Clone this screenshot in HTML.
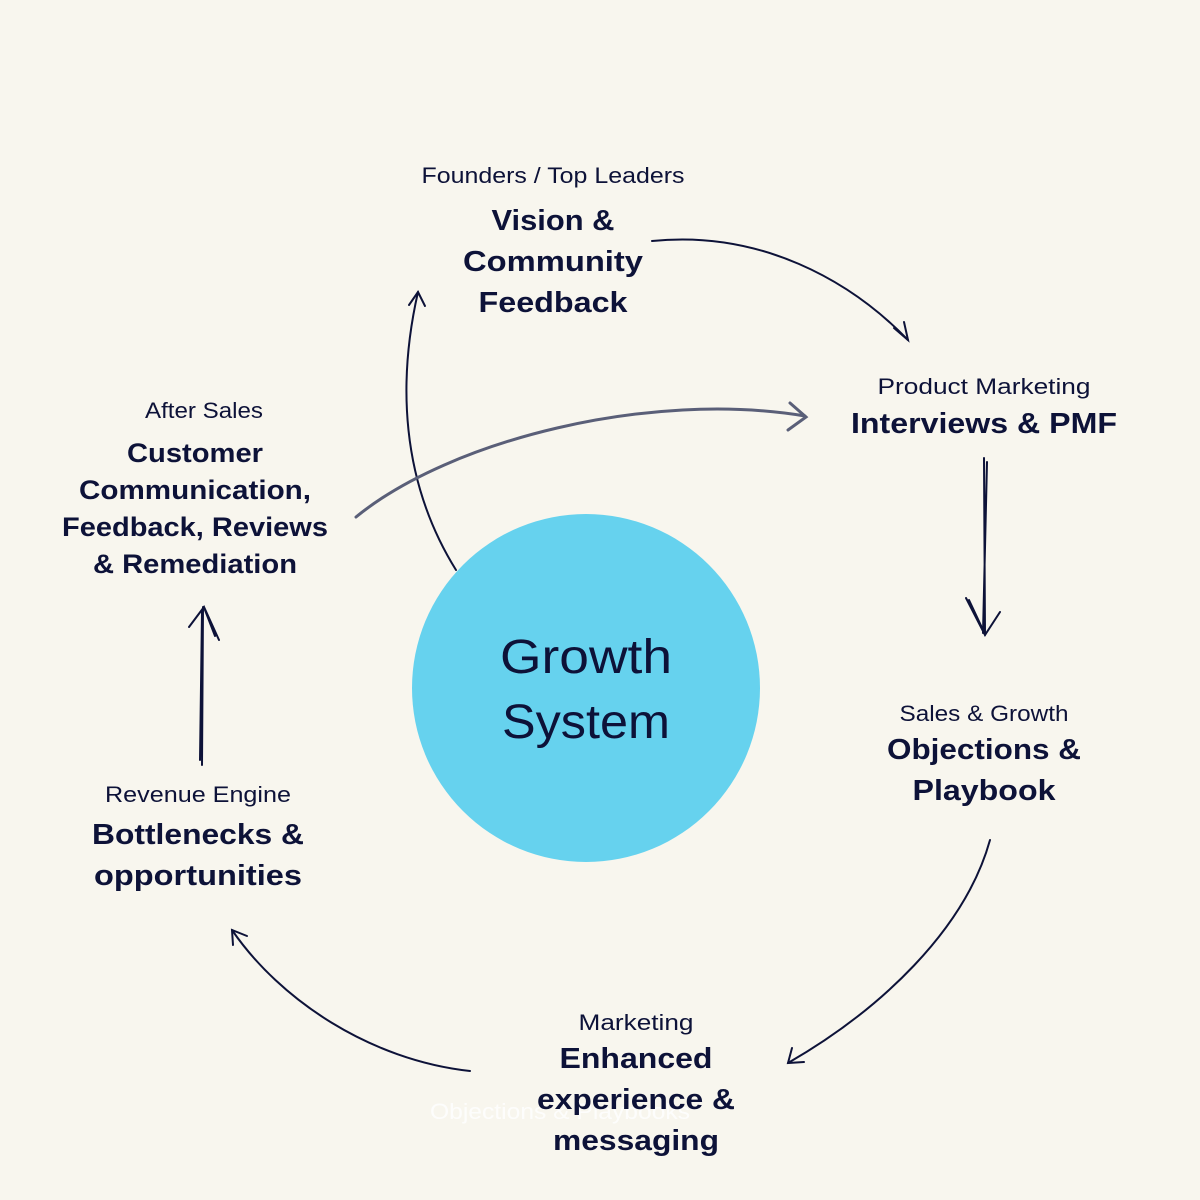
<!DOCTYPE html>
<html><head><meta charset="utf-8"><style>
html,body{margin:0;padding:0;background:#f8f6ee;}
svg{display:block}
text{font-family:"Liberation Sans",sans-serif;fill:#0d1238;text-anchor:middle}
.l{font-size:22px}
.b{font-size:29px;font-weight:bold}
.c{font-size:27px;font-weight:bold}
</style></head><body>
<svg width="1200" height="1200" viewBox="0 0 1200 1200" xmlns="http://www.w3.org/2000/svg">
<rect width="1200" height="1200" fill="#f8f6ee"/>
<circle cx="586" cy="688" r="174" fill="#66d2ee"/>
<text x="586" y="673" style="font-size:48px" textLength="172" lengthAdjust="spacingAndGlyphs">Growth</text>
<text x="586" y="738" style="font-size:48px" textLength="168" lengthAdjust="spacingAndGlyphs">System</text>

<g fill="none" stroke="#0d1238" stroke-width="2" stroke-linecap="round">
<path d="M652,241 C760,230 850,280 908,340"/>
<path d="M894,328 L908,340 L904,322"/>
<path d="M456,570 C400,480 398,380 418,292"/>
<path d="M409,305 L418,292 L425,306"/>
<path d="M984,458 L985,635 M987,462 L983,633"/>
<path d="M966,598 L985,635 L1000,612 M969,600 L984,632"/>
<path d="M990,840 C965,930 880,1010 788,1063"/>
<path d="M792,1048 L788,1063 L804,1062"/>
<path d="M470,1071 C370,1060 280,1000 232,930"/>
<path d="M233,945 L232,930 L247,936"/>
<path d="M202,765 L203,607 M200,760 L202,612"/>
<path d="M189,627 L204,607 L219,640 M205,610 L215,636"/>
</g>
<g fill="none" stroke="#5a5f78" stroke-width="3" stroke-linecap="round">
<path d="M356,517 C450,440 650,390 805,416"/>
<path d="M790,403 L806,417 L788,430"/>
</g>

<text class="l" x="553" y="183" textLength="263" lengthAdjust="spacingAndGlyphs">Founders / Top Leaders</text>
<text class="b" x="553" y="230" textLength="123" lengthAdjust="spacingAndGlyphs">Vision &amp;</text>
<text class="b" x="553" y="271" textLength="180" lengthAdjust="spacingAndGlyphs">Community</text>
<text class="b" x="553" y="312" textLength="149" lengthAdjust="spacingAndGlyphs">Feedback</text>

<text class="l" x="984" y="394" textLength="213" lengthAdjust="spacingAndGlyphs">Product Marketing</text>
<text class="b" x="984" y="433" textLength="266" lengthAdjust="spacingAndGlyphs">Interviews &amp; PMF</text>

<text class="l" x="204" y="418" textLength="118" lengthAdjust="spacingAndGlyphs">After Sales</text>
<text class="c" x="195" y="462" textLength="136" lengthAdjust="spacingAndGlyphs">Customer</text>
<text class="c" x="195" y="499" textLength="232" lengthAdjust="spacingAndGlyphs">Communication,</text>
<text class="c" x="195" y="536" textLength="266" lengthAdjust="spacingAndGlyphs">Feedback, Reviews</text>
<text class="c" x="195" y="573" textLength="204" lengthAdjust="spacingAndGlyphs">&amp; Remediation</text>

<text class="l" x="984" y="721" textLength="169" lengthAdjust="spacingAndGlyphs">Sales &amp; Growth</text>
<text class="b" x="984" y="759" textLength="194" lengthAdjust="spacingAndGlyphs">Objections &amp;</text>
<text class="b" x="984" y="800" textLength="143" lengthAdjust="spacingAndGlyphs">Playbook</text>

<text class="l" x="198" y="802" textLength="186" lengthAdjust="spacingAndGlyphs">Revenue Engine</text>
<text class="b" x="198" y="844" textLength="212" lengthAdjust="spacingAndGlyphs">Bottlenecks &amp;</text>
<text class="b" x="198" y="885" textLength="208" lengthAdjust="spacingAndGlyphs">opportunities</text>

<text class="l" x="560" y="1119" style="fill:#ffffff;opacity:0.85" textLength="260" lengthAdjust="spacingAndGlyphs">Objections &amp; Playbooks</text>
<text class="l" x="636" y="1030" textLength="115" lengthAdjust="spacingAndGlyphs">Marketing</text>
<text class="b" x="636" y="1068" textLength="153" lengthAdjust="spacingAndGlyphs">Enhanced</text>
<text class="b" x="636" y="1109" textLength="198" lengthAdjust="spacingAndGlyphs">experience &amp;</text>
<text class="b" x="636" y="1150" textLength="166" lengthAdjust="spacingAndGlyphs">messaging</text>
</svg>
</body></html>
